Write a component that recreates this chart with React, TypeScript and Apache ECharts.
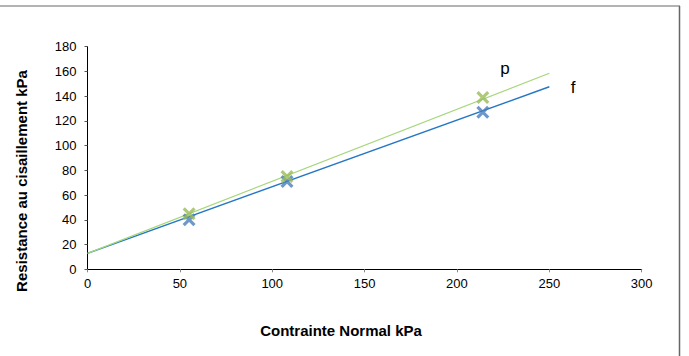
import React, { useEffect, useRef } from "react";
import * as echarts from "echarts";

const xTicks = [0, 50, 100, 150, 200, 250, 300];
const yTicks = [0, 20, 40, 60, 80, 100, 120, 140, 160, 180];

const contrainteF = [55, 108, 214];
const resistanceF = [40, 71, 127];
const contrainteP = [55, 108, 214];
const resistanceP = [45, 75, 139];

// trend lines (start / end)
const trendFX = [0, 250];
const trendFY = [12.9, 147.6];
const trendPX = [0, 250];
const trendPY = [12.9, 158.5];

const seriesNames = ["f", "p"];
const xTitle = "Contrainte Normal kPa";
const yTitle = "Resistance au cisaillement kPa";

const CROSS =
  "path://M0,2.1 L2.1,0 L6,3.9 L9.9,0 L12,2.1 L8.1,6 L12,9.9 L9.9,12 L6,8.1 L2.1,12 L0,9.9 L3.9,6 Z";

export default function App() {
  const ref = useRef<HTMLDivElement>(null);
  useEffect(() => {
    if (!ref.current) return;
    const chart = echarts.init(ref.current, undefined, { renderer: "svg" });
    const font = "'Liberation Sans', Arial, sans-serif";
    const zip = (a: number[], b: number[]) => a.map((v, i) => [v, b[i]]);
    chart.setOption({
      animation: false,
      backgroundColor: "#ffffff",
      textStyle: { fontFamily: font },
      grid: { left: 87.5, right: 47.3, top: 46.7, bottom: 86.7 },
      xAxis: {
        type: "value",
        min: xTicks[0],
        max: xTicks[xTicks.length - 1],
        interval: 50,
        splitLine: { show: false },
        axisLine: { show: true, lineStyle: { color: "#000", width: 1 } },
        axisTick: { show: true, length: 3, lineStyle: { color: "#888" } },
        axisLabel: { color: "#000", fontSize: 13, margin: 8, fontFamily: font },
      },
      yAxis: {
        type: "value",
        min: yTicks[0],
        max: yTicks[yTicks.length - 1],
        interval: 20,
        splitLine: { show: false },
        axisLine: { show: true, lineStyle: { color: "#000", width: 1 } },
        axisTick: { show: true, length: 3, lineStyle: { color: "#555" } },
        axisLabel: { color: "#000", fontSize: 13, margin: 11, fontFamily: font },
      },
      series: [
        {
          name: seriesNames[0] + " trend",
          type: "line",
          data: zip(trendFX, trendFY),
          showSymbol: false,
          lineStyle: { color: "#2577c6", width: 1.5 },
          z: 2,
        },
        {
          name: seriesNames[1] + " trend",
          type: "line",
          data: zip(trendPX, trendPY),
          showSymbol: false,
          lineStyle: { color: "#a6d77a", width: 1.2 },
          z: 2,
        },
        {
          name: seriesNames[0],
          type: "scatter",
          data: zip(contrainteF, resistanceF),
          symbol: CROSS,
          symbolSize: 13,
          itemStyle: { color: "#4a7ebb" },
          z: 3,
        },
        {
          name: seriesNames[1],
          type: "scatter",
          data: zip(contrainteP, resistanceP),
          symbol: CROSS,
          symbolSize: 13,
          itemStyle: { color: "#9bbb59" },
          z: 4,
        },
      ],
      graphic: [
        {
          type: "line",
          shape: { x1: 0, y1: 6, x2: 680, y2: 6 },
          style: { stroke: "#9a9a9a", lineWidth: 1.5 },
        },
        {
          type: "line",
          shape: { x1: 679.5, y1: 6, x2: 679.5, y2: 356 },
          style: { stroke: "#666", lineWidth: 1.5 },
        },
        {
          type: "text",
          x: 341,
          y: 330,
          style: {
            text: xTitle,
            fontSize: 15,
            fontWeight: "bold",
            fill: "#000",
            fontFamily: font,
            align: "center",
            verticalAlign: "middle",
          },
        },
        {
          type: "text",
          x: 21,
          y: 181,
          rotation: Math.PI / 2,
          style: {
            text: yTitle,
            fontSize: 15,
            fontWeight: "bold",
            fill: "#000",
            fontFamily: font,
            align: "center",
            verticalAlign: "middle",
          },
        },
        {
          type: "text",
          x: 505,
          y: 68,
          style: {
            text: seriesNames[1],
            fontSize: 17,
            fill: "#000",
            fontFamily: font,
            align: "center",
            verticalAlign: "middle",
          },
        },
        {
          type: "text",
          x: 573,
          y: 87,
          style: {
            text: seriesNames[0],
            fontSize: 17,
            fill: "#000",
            fontFamily: font,
            align: "center",
            verticalAlign: "middle",
          },
        },
      ],
    });
    return () => chart.dispose();
  }, []);
  return (
    <div
      ref={ref}
      style={{ position: "fixed", left: 0, top: 0, width: 689, height: 356 }}
    />
  );
}
